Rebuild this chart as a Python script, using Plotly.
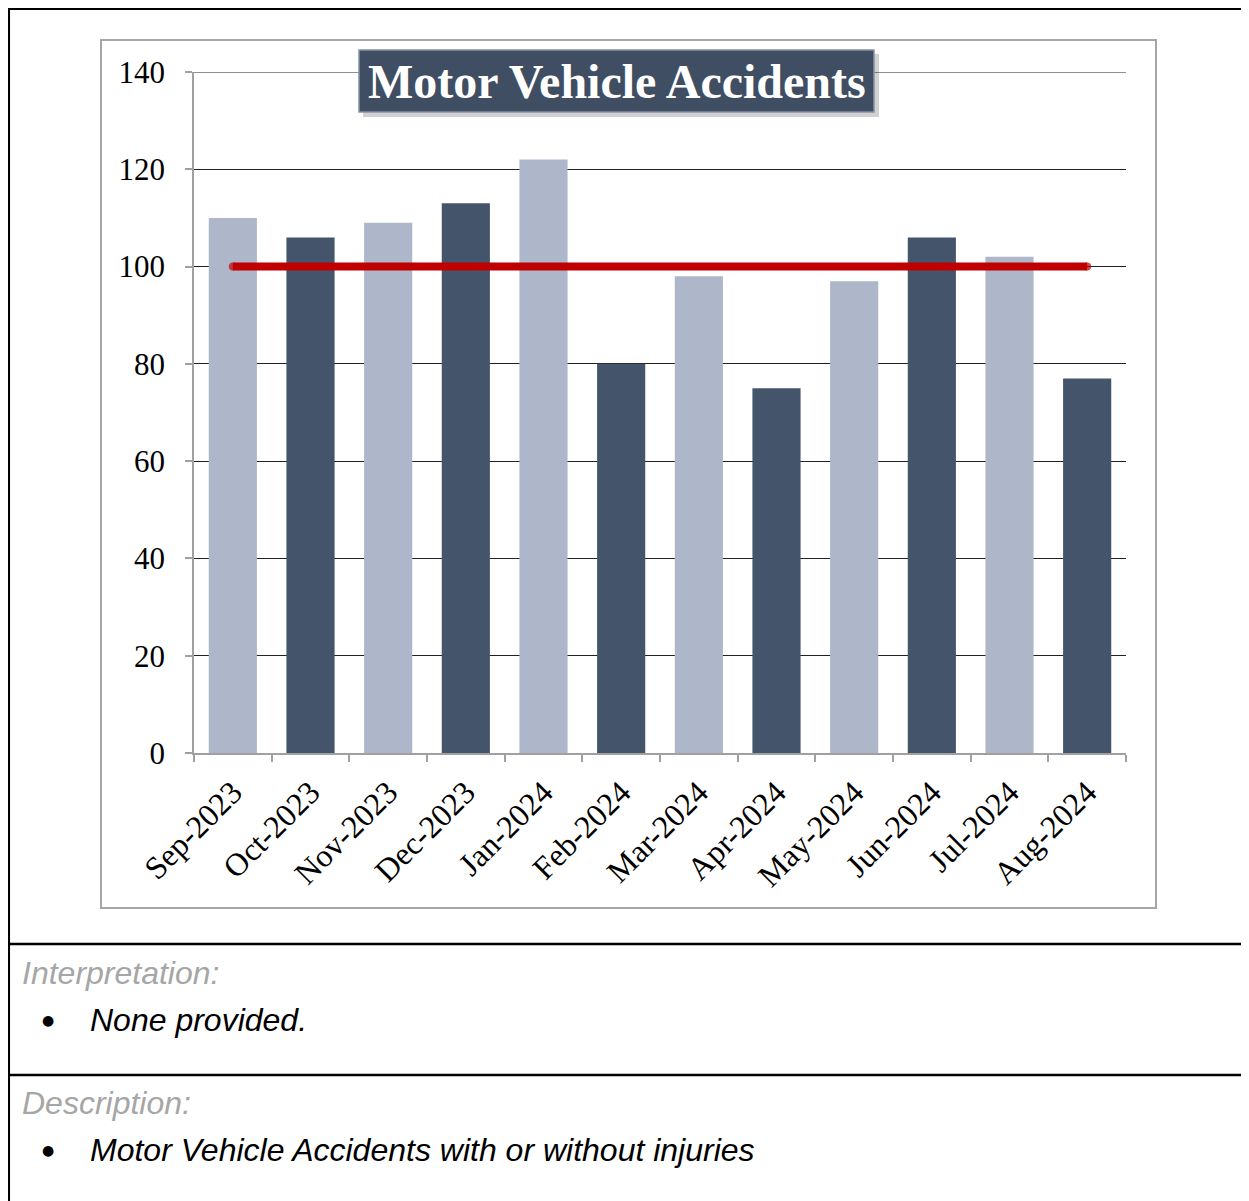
import plotly.graph_objects as go

# ---- data ----
months = ["Sep-2023", "Oct-2023", "Nov-2023", "Dec-2023", "Jan-2024", "Feb-2024",
          "Mar-2024", "Apr-2024", "May-2024", "Jun-2024", "Jul-2024", "Aug-2024"]
accidents = [110, 106, 109, 113, 122, 80, 98, 75, 97, 106, 102, 77]
target = [100] * len(months)
y_ticks = [0, 20, 40, 60, 80, 100, 120, 140]

title_text = "Motor Vehicle Accidents"
interp_label = "Interpretation:"
interp_items = ["None provided."]
desc_label = "Description:"
desc_items = ["Motor Vehicle Accidents with or without injuries"]

LIGHT = "#ADB7C9"
DARK = "#44546A"
colors = [LIGHT if i % 2 == 0 else DARK for i in range(len(months))]

OFF = 8  # page body margin
W, H = 1249 - OFF, 1201 - OFF
PL, PR, PT, PB = 194 - OFF, 1126 - OFF, 72 - OFF, 753 - OFF  # plot area in figure pixels


def px(x):
    """screen x -> paper"""
    return (x - OFF - PL) / (PR - PL)


def py(y):
    """screen y -> paper"""
    return (PB - (y - OFF)) / (PB - PT)


fig = go.Figure()
fig.add_trace(go.Bar(
    x=months, y=accidents, marker=dict(color=colors, line=dict(width=0)),
    width=0.62, showlegend=False, hoverinfo="x+y"))
n = len(months)
fig.add_trace(go.Scatter(
    x=months, y=target, mode="lines+markers",
    line=dict(color="#C00000", width=8),
    marker=dict(color="#C00000", size=[8] + [0] * (n - 2) + [8], line=dict(width=0)),
    showlegend=False, hoverinfo="y"))

serif = "Liberation Serif, Times New Roman, serif"
sans = "Liberation Sans, Arial, sans-serif"

fig.update_layout(
    width=W, height=H,
    margin=dict(l=PL, r=W - PR, t=PT, b=H - PB, pad=0),
    paper_bgcolor="white", plot_bgcolor="white",
    font=dict(family=serif, size=31, color="black"),
    xaxis=dict(type="category", tickson="boundaries", ticks="outside", ticklen=7,
               tickcolor="#A0A0A0", tickwidth=1.5, showline=True, linecolor="#A0A0A0",
               linewidth=1.5, showgrid=False, tickangle=-45,
               tickfont=dict(family=serif, size=32, color="black"),
               ticklabelstandoff=6, range=[-0.5, n - 0.5]),
    yaxis=dict(range=[0, 140], tickvals=y_ticks, ticks="outside", ticklen=7,
               tickcolor="#A0A0A0", tickwidth=1.5, showline=True, linecolor="#A0A0A0",
               linewidth=1.5, showgrid=True, gridcolor="#222222", gridwidth=1,
               zeroline=False, tickfont=dict(family=serif, size=31, color="black"),
               ticklabelstandoff=14),
)

shapes = []
# top gridline (140)
shapes.append(dict(type="line", xref="paper", yref="y", x0=0, x1=1, y0=140, y1=140,
                   line=dict(color="#222222", width=1), layer="below"))
# chart frame
shapes.append(dict(type="rect", xref="paper", yref="paper",
                   x0=px(101), x1=px(1156), y0=py(908), y1=py(40),
                   line=dict(color="#A6A6A6", width=2), layer="below"))
# page borders
shapes.append(dict(type="line", xref="paper", yref="paper",
                   x0=px(8), x1=px(1249), y0=py(8.8), y1=py(8.8),
                   line=dict(color="black", width=2.5)))
shapes.append(dict(type="line", xref="paper", yref="paper",
                   x0=px(8.8), x1=px(8.8), y0=py(8), y1=py(1201),
                   line=dict(color="black", width=2.5)))
for yy in (944, 1075):
    shapes.append(dict(type="line", xref="paper", yref="paper",
                       x0=px(8), x1=px(1249), y0=py(yy), y1=py(yy),
                       line=dict(color="black", width=2.5)))
# title box shadow + box
shapes.append(dict(type="rect", xref="paper", yref="paper",
                   x0=px(363), x1=px(879), y0=py(117), y1=py(54),
                   fillcolor="rgba(0,0,0,0.18)", line=dict(width=0), layer="above"))
shapes.append(dict(type="rect", xref="paper", yref="paper",
                   x0=px(359), x1=px(874), y0=py(112), y1=py(50),
                   fillcolor="#3F4E63", line=dict(color="#8793A4", width=1.5), layer="above"))
fig.update_layout(shapes=shapes)

ann = []
ann.append(dict(text="<b>" + title_text + "</b>", xref="paper", yref="paper",
                x=px(616.5), y=py(81), xanchor="center", yanchor="middle",
                showarrow=False, font=dict(family=serif, size=48, color="white")))
ann.append(dict(text="<i>" + interp_label + "</i>", xref="paper", yref="paper",
                x=px(20), y=py(973), xanchor="left", yanchor="middle",
                showarrow=False, font=dict(family=sans, size=32, color="#A6A6A6")))
for i, t in enumerate(interp_items):
    yy = 1020 + i * 40
    ann.append(dict(text="●", xref="paper", yref="paper", x=px(48), y=py(yy),
                    xanchor="center", yanchor="middle", showarrow=False,
                    font=dict(family="DejaVu Sans", size=14, color="black")))
    ann.append(dict(text="<i>" + t + "</i>", xref="paper", yref="paper", x=px(88), y=py(yy),
                    xanchor="left", yanchor="middle", showarrow=False,
                    font=dict(family=sans, size=32, color="black")))
ann.append(dict(text="<i>" + desc_label + "</i>", xref="paper", yref="paper",
                x=px(20), y=py(1103), xanchor="left", yanchor="middle",
                showarrow=False, font=dict(family=sans, size=32, color="#A6A6A6")))
for i, t in enumerate(desc_items):
    yy = 1150 + i * 40
    ann.append(dict(text="●", xref="paper", yref="paper", x=px(48), y=py(yy),
                    xanchor="center", yanchor="middle", showarrow=False,
                    font=dict(family="DejaVu Sans", size=14, color="black")))
    ann.append(dict(text="<i>" + t + "</i>", xref="paper", yref="paper", x=px(88), y=py(yy),
                    xanchor="left", yanchor="middle", showarrow=False,
                    font=dict(family=sans, size=32, color="black")))
fig.update_layout(annotations=ann)

fig.write_html("out.html")
